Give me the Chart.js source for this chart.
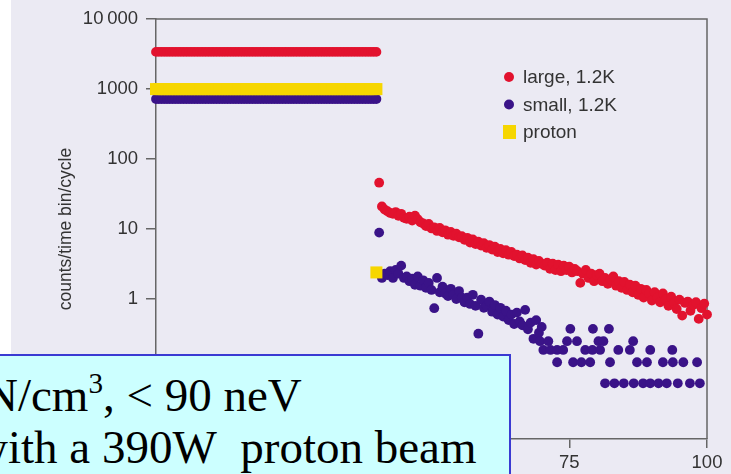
<!DOCTYPE html>
<html lang="en">
<head>
  <meta charset="UTF-8">
  <title>Counts per time bin</title>
  <script src="https://cdn.jsdelivr.net/npm/chart.js"></script>
  <style>
    body { margin: 0; background: #fff; width: 731px; height: 474px; overflow: hidden; position: relative; }
    .panel { position: absolute; left: 11px; top: 0; width: 720px; height: 474px; background: #ebeaf3; }
    .note {
      position: absolute; left: 0; top: 354px; width: 509px; height: 120px;
      background: #ccffff; border-top: 2px solid #3a3ad2; border-right: 2px solid #3a3ad2;
      overflow: hidden; font-family: 'Liberation Serif', 'Times New Roman', serif; font-size: 47px; color: #000;
    }
    .note div { position: absolute; white-space: nowrap; line-height: 1; }
    .note sup { font-size: 0.62em; vertical-align: 0.62em; line-height: 0; }
  </style>
</head>
<body>
  <div class="panel">
    <canvas id="chart"></canvas>
  </div>
  <div class="note">
    <div style="left:-16px; top:16px;">N/cm<sup>3</sup>, &lt; 90 neV</div>
    <div style="left:-26px; top:68px;">with a 390W&nbsp; proton beam</div>
  </div>

  <script>
    // time bins (s) for the flat top and for the decay after the beam stops
    const flatX = [0,0.5,1,1.5,2,2.5,3,3.5,4,4.5,5,5.5,6,6.5,7,7.5,8,8.5,9,9.5,
      10,10.5,11,11.5,12,12.5,13,13.5,14,14.5,15,15.5,16,16.5,17,17.5,18,18.5,19,19.5,
      20,20.5,21,21.5,22,22.5,23,23.5,24,24.5,25,25.5,26,26.5,27,27.5,28,28.5,29,29.5,
      30,30.5,31,31.5,32,32.5,33,33.5,34,34.5,35,35.5,36,36.5,37,37.5,38,38.5,39,39.5,40];
    const decayX = [40.5,41,41.5,42,42.5,43,43.5,44,44.5,45,
      45.5,46,46.5,47,47.5,48,48.5,49,49.5,50,
      50.5,51,51.5,52,52.5,53,53.5,54,54.5,55,
      55.5,56,56.5,57,57.5,58,58.5,59,59.5,60,
      60.5,61,61.5,62,62.5,63,63.5,64,64.5,65,
      65.5,66,66.5,67,67.5,68,68.5,69,69.5,70,
      70.5,71,71.5,72,72.5,73,73.5,74,74.5,75,
      75.5,76,76.5,77,77.5,78,78.5,79,79.5,80,
      80.5,81,81.5,82,82.5,83,83.5,84,84.5,85,
      85.5,86,86.5,87,87.5,88,88.5,89,89.5,90,
      90.5,91,91.5,92,92.5,93,93.5,94,94.5,95,
      95.5,96,96.5,97,97.5,98,98.5,99,99.5,100];

    // large, 1.2K
    const largeFlat = [3400,3400,3400,3400,3400,3400,3400,3400,3400,3400,
      3400,3400,3400,3400,3400,3400,3400,3400,3400,3400,
      3400,3400,3400,3400,3400,3400,3400,3400,3400,3400,
      3400,3400,3400,3400,3400,3400,3400,3400,3400,3400,
      3400,3400,3400,3400,3400,3400,3400,3400,3400,3400,
      3400,3400,3400,3400,3400,3400,3400,3400,3400,3400,
      3400,3400,3400,3400,3400,3400,3400,3400,3400,3400,
      3400,3400,3400,3400,3400,3400,3400,3400,3400,3400,3400];
    const largeDecay = [46,21,19,18,17,16.5,17.5,15.5,16.5,14.5,
      14,15,13.2,15.5,13.8,12.5,12,11,11.8,10.2,
      10.6,9.4,10.4,9,9.6,8.3,9.1,8,8.6,7.6,
      7.9,7,7.5,6.4,7.1,6.1,6.6,5.8,6.3,5.4,
      5.9,5.1,5.6,4.7,5.2,4.5,5,4.3,4.7,4.1,
      4.3,3.8,4.2,3.6,3.9,3.3,3.7,3.1,3.5,3.2,
      3.0,3.3,2.7,3.2,2.6,3.1,2.5,3.0,2.6,2.9,
      2.4,2.7,2.5,1.7,2.3,2.6,2.0,2.3,1.8,2.2,
      2.3,1.8,2.0,1.65,1.9,2.1,1.55,1.8,1.45,1.75,
      1.35,1.6,1.25,1.55,1.15,1.4,1.05,1.35,1.2,0.95,
      1.25,1.05,0.9,1.2,0.98,0.8,1.08,0.88,0.72,0.98,
      0.58,0.88,0.92,0.68,0.82,0.9,0.52,0.74,0.86,0.6];

    // small, 1.2K
    const smallFlat = [720,720,720,720,720,720,720,720,720,720,
      720,720,720,720,720,720,720,720,720,720,
      720,720,720,720,720,720,720,720,720,720,
      720,720,720,720,720,720,720,720,720,720,
      720,720,720,720,720,720,720,720,720,720,
      720,720,720,720,720,720,720,720,720,720,
      720,720,720,720,720,720,720,720,720,720,
      720,720,720,720,720,720,720,720,720,720,720];
    const smallDecay = [8.9,2.0,2.3,2.2,2.5,2.0,2.6,2.3,3.0,2.0,
      2.1,1.8,1.95,1.6,2.1,1.55,1.85,1.45,1.7,1.35,
      0.74,2.0,1.25,1.5,1.2,1.1,1.4,1.15,1.0,1.3,
      1.05,0.9,1.05,0.85,1.15,0.8,0.32,0.98,0.75,0.8,
      0.92,0.66,0.82,0.6,0.75,0.56,0.68,0.5,0.6,0.44,
      0.64,0.48,0.42,0.7,0.37,0.46,0.27,0.5,0.33,0.4];
    // sparse tail, counts quantised into a few levels
    const smallTailX = [75.2,79.3,82.2,
      69.7,71.2,74.6,76.4,80.3,81.2,86.6,
      70.3,71.6,72.8,73.9,77.9,79.2,80.6,83.9,86,89.7,93.7,
      72.8,75.7,77.2,78.8,82.4,87.3,89.1,92,93.8,95.7,98.2,
      81.5,83.2,84.9,86.7,88.4,89.7,91.2,92.7,94.7,96.9,98.7];
    const smallTailY = [0.375,0.375,0.375,
      0.25,0.25,0.25,0.25,0.25,0.25,0.25,
      0.1875,0.1875,0.1875,0.1875,0.1875,0.1875,0.1875,0.1875,0.1875,0.1875,0.1875,
      0.125,0.125,0.125,0.125,0.125,0.125,0.125,0.125,0.125,0.125,0.125,
      0.0625,0.0625,0.0625,0.0625,0.0625,0.0625,0.0625,0.0625,0.0625,0.0625,0.0625];

    // proton
    const protonFlat = [1000,1000,1000,1000,1000,1000,1000,1000,1000,1000,
      1000,1000,1000,1000,1000,1000,1000,1000,1000,1000,
      1000,1000,1000,1000,1000,1000,1000,1000,1000,1000,
      1000,1000,1000,1000,1000,1000,1000,1000,1000,1000,
      1000,1000,1000,1000,1000,1000,1000,1000,1000,1000,
      1000,1000,1000,1000,1000,1000,1000,1000,1000,1000,
      1000,1000,1000,1000,1000,1000,1000,1000,1000,1000,
      1000,1000,1000,1000,1000,1000,1000,1000,1000,1000,1000];
    const protonOffX = [40];
    const protonOffY = [2.4];

    const yTicks = [0.01, 0.1, 1, 10, 100, 1000, 10000];
    const yLabels = ['0.01', '0.1', '1', '10', '100', '1000', '10\u2009000'];
    const seriesNames = ['large, 1.2K', 'small, 1.2K', 'proton'];
    const colors = ['#e2122e', '#3a1388', '#f6d600'];

    const pts = (xs, ys) => xs.map((x, i) => ({ x: x, y: ys[i] }));

    const largeData = pts(flatX, largeFlat).concat(pts(decayX, largeDecay));
    const smallData = pts(flatX, smallFlat).concat(pts(decayX, smallDecay), pts(smallTailX, smallTailY));
    const protonData = pts(flatX, protonFlat).concat(pts(protonOffX, protonOffY));

    const tickFont = { family: "'Liberation Sans', Arial, sans-serif", size: 18.5 };

    // frame on top and right, like the original plot box
    const boxPlugin = {
      id: 'box',
      beforeDatasetsDraw(chart) {
        const { ctx, chartArea: a } = chart;
        ctx.save();
        ctx.strokeStyle = '#666';
        ctx.lineWidth = 1.5;
        ctx.beginPath();
        ctx.moveTo(a.left, a.top);
        ctx.lineTo(a.right, a.top);
        ctx.lineTo(a.right, a.bottom);
        ctx.stroke();
        ctx.restore();
      }
    };

    // legend inside the plot, top right
    const legendPlugin = {
      id: 'innerLegend',
      afterDatasetsDraw(chart) {
        const ctx = chart.ctx;
        const x0 = 498, y0 = 77, rowH = 27.5;
        ctx.save();
        ctx.font = "19px 'Liberation Sans', Arial, sans-serif";
        ctx.textBaseline = 'middle';
        seriesNames.forEach((name, i) => {
          const y = y0 + i * rowH;
          ctx.fillStyle = colors[i];
          if (i === 2) {
            ctx.fillRect(x0 - 6, y - 7, 13, 14);
          } else {
            ctx.beginPath();
            ctx.arc(x0, y, 5, 0, Math.PI * 2);
            ctx.fill();
          }
          ctx.fillStyle = '#333';
          ctx.fillText(name, x0 + 14, y + 1);
        });
        ctx.restore();
      }
    };

    new Chart(document.getElementById('chart'), {
      type: 'scatter',
      data: {
        datasets: [
          { label: seriesNames[2], data: protonData, pointStyle: 'rect', pointRadius: 8.5,
            backgroundColor: colors[2], borderWidth: 0, clip: false },
          { label: seriesNames[0], data: largeData, pointRadius: 4.9,
            backgroundColor: colors[0], borderWidth: 0, clip: false },
          { label: seriesNames[1], data: smallData, pointRadius: 4.9,
            backgroundColor: colors[1], borderWidth: 0, clip: false }
        ]
      },
      options: {
        responsive: true,
        maintainAspectRatio: false,
        animation: false,
        layout: { padding: { top: 19, right: 24, left: 0, bottom: 0 } },
        plugins: { legend: { display: false }, tooltip: { enabled: false } },
        scales: {
          x: {
            type: 'linear', min: 0, max: 100,
            afterFit(scale) { scale.height = 35; },
            ticks: { stepSize: 25, color: '#333', font: tickFont, padding: 4 },
            grid: { drawOnChartArea: false, tickLength: 9, color: '#666', lineWidth: 1.5 },
            border: { color: '#666', width: 1.5 }
          },
          y: {
            type: 'logarithmic', min: 0.01, max: 10000,
            afterFit(scale) { scale.width = 145; },
            afterBuildTicks(scale) { scale.ticks = yTicks.map(v => ({ value: v })); },
            ticks: {
              color: '#333', font: tickFont, padding: 8,
              callback: v => yLabels[yTicks.indexOf(v)]
            },
            grid: { drawOnChartArea: false, tickLength: 10, color: '#666', lineWidth: 1.5 },
            border: { color: '#666', width: 1.5 },
            title: {
              display: true, text: 'counts/time bin/cycle', color: '#333',
              font: { family: "'Liberation Sans', Arial, sans-serif", size: 17.5 },
              padding: { top: 45, bottom: 0 }
            }
          }
        }
      },
      plugins: [boxPlugin, legendPlugin]
    });
  </script>
</body>
</html>
